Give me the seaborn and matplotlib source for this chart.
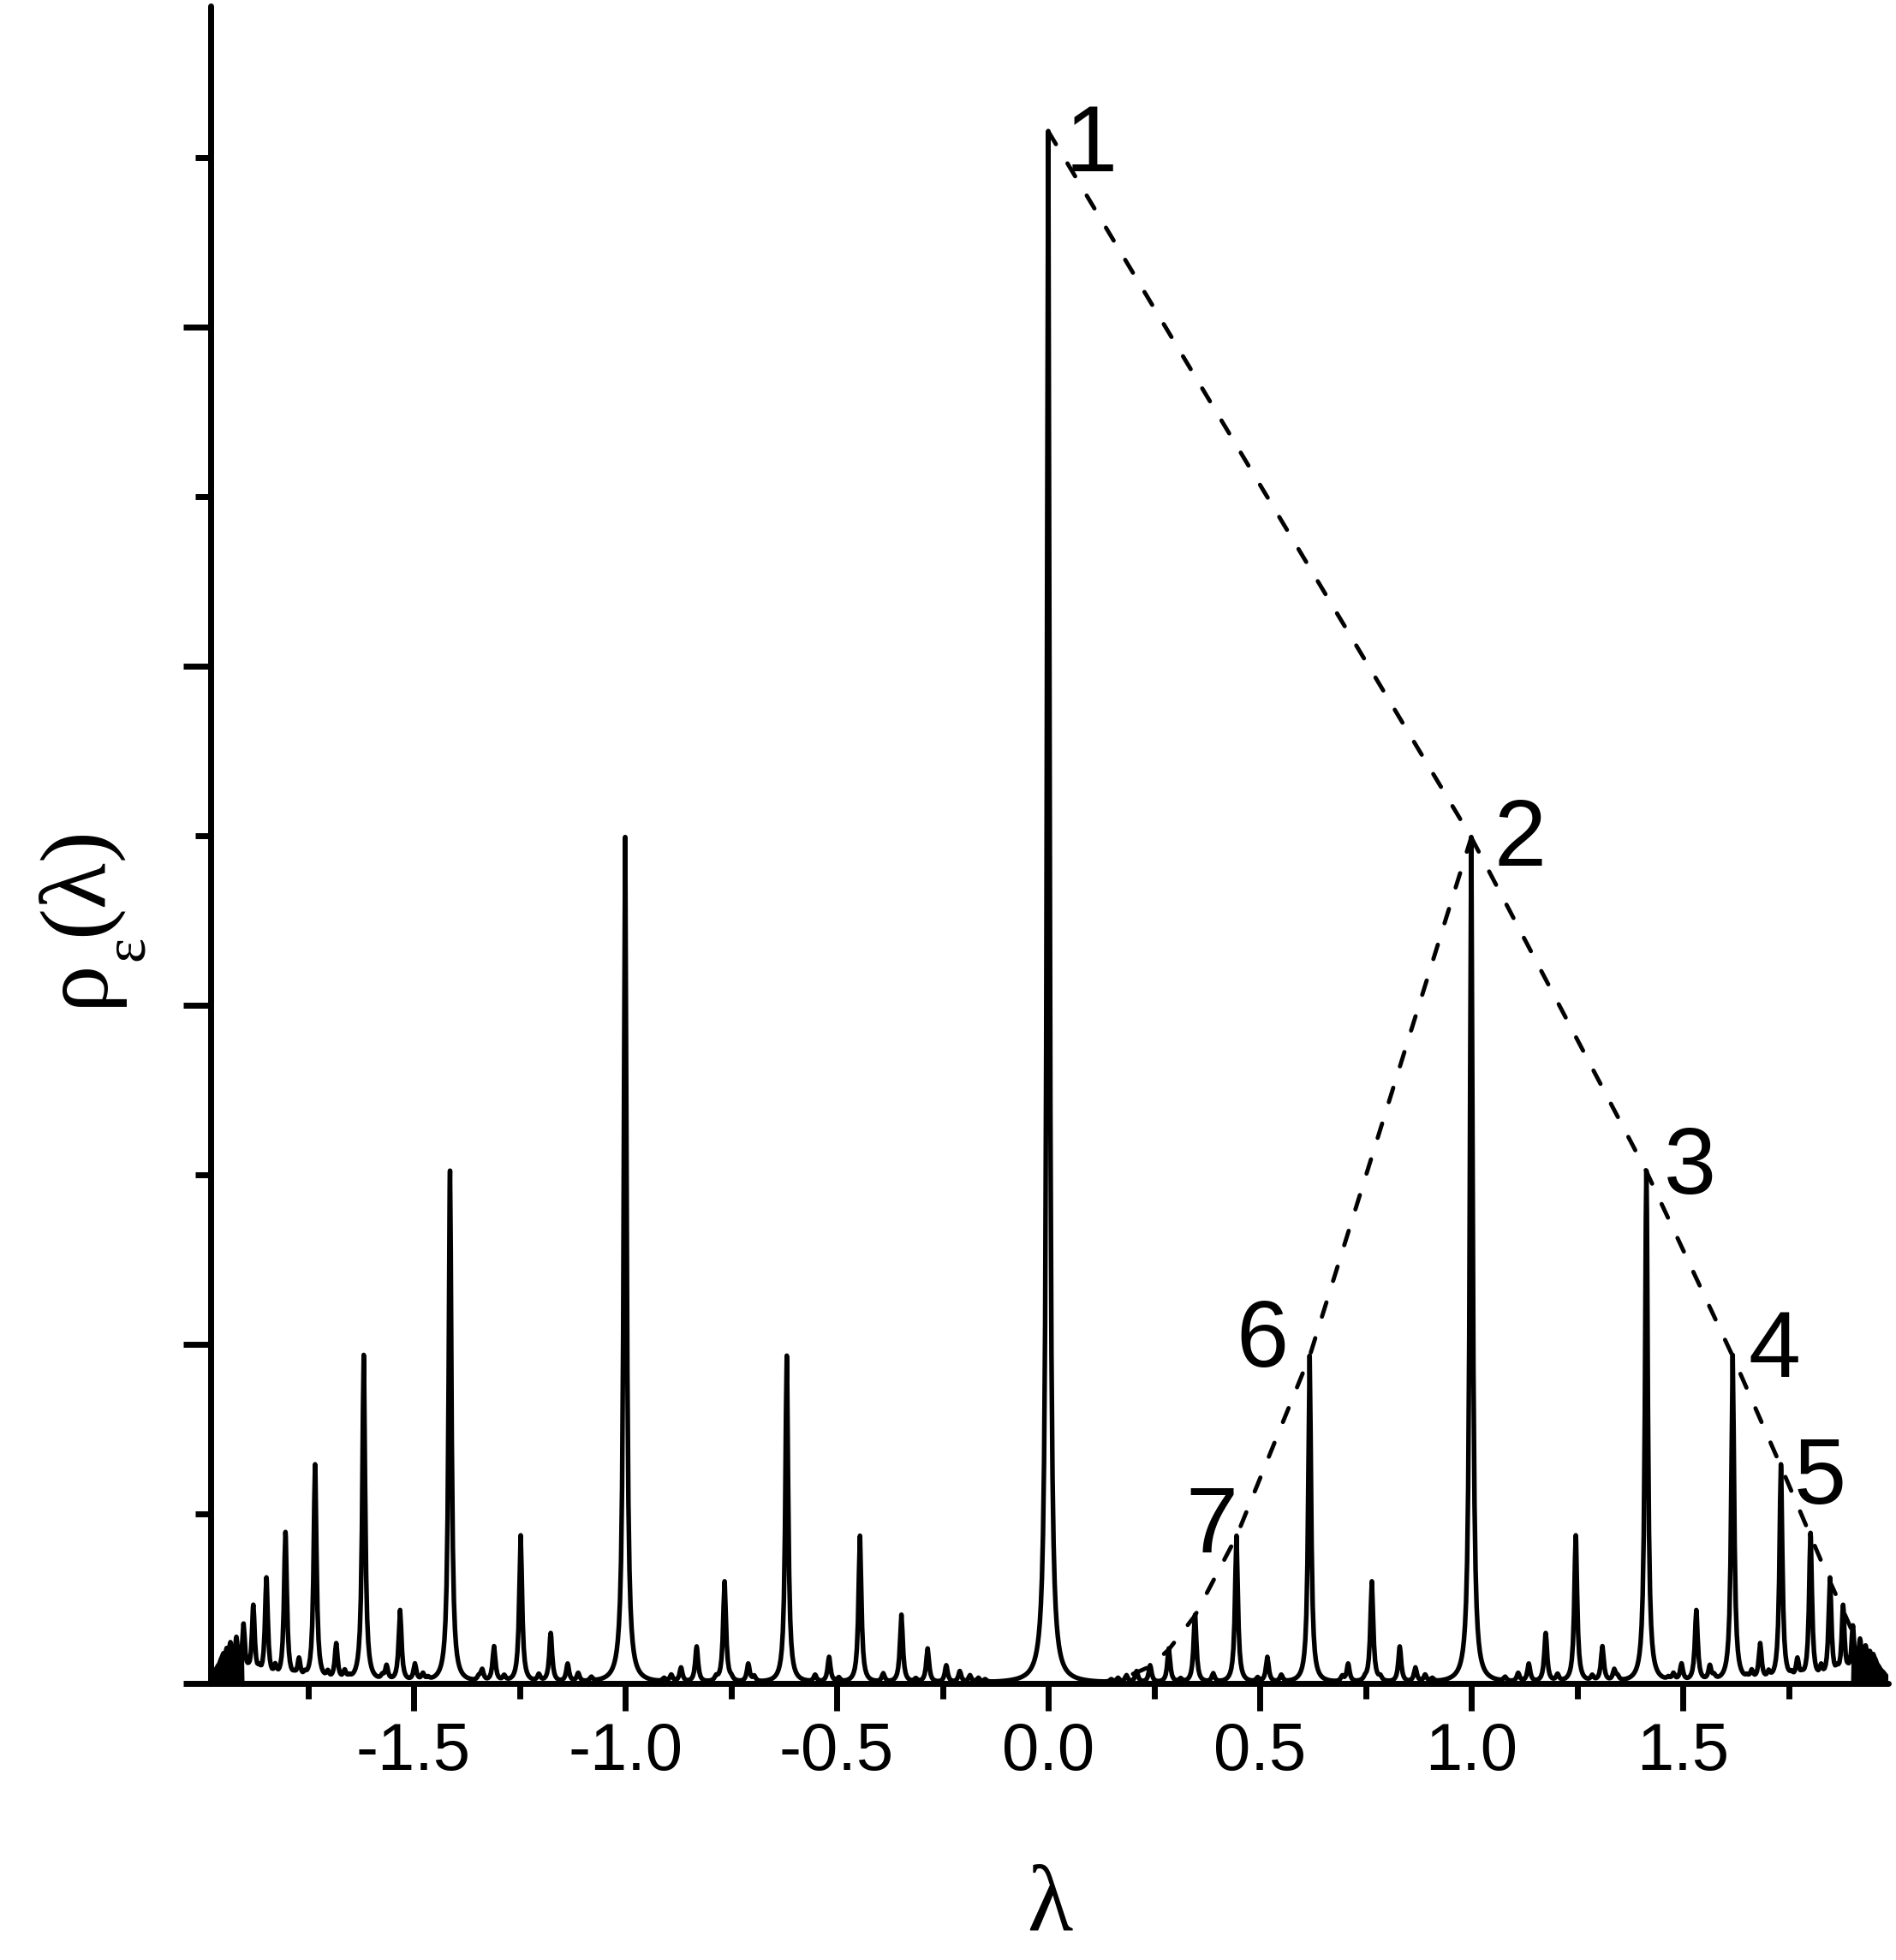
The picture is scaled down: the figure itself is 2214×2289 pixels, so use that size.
import numpy as np
import pandas as pd
import matplotlib
matplotlib.use("Agg")
import matplotlib.pyplot as plt
from matplotlib.ticker import FixedLocator, FuncFormatter
import seaborn as sns

# ---------------- data ----------------
# positive-lambda peaks (position, peak height in y-tick units)
lam_right = [0.000, 1.000, 1.414, 1.618, 0.618, 1.732,
             1.802, 1.247, 0.445, 1.848, 0.765,
             1.879, 1.532, 0.347, 1.902, 1.176,
             1.919, 1.683, 1.310, 0.831, 0.285, 1.932, 0.518,
             1.942, 1.771, 1.497, 1.136, 0.709, 0.241,
             1.950, 1.564, 0.868, 1.956, 1.827, 1.338, 0.209,
             1.962, 1.663, 1.111, 0.390,
             1.966, 1.865, 1.703, 1.478, 1.204, 0.891, 0.551, 0.185,
             1.970, 1.286, 0.695,
             1.973, 1.891, 1.757, 1.574, 1.346, 1.080, 0.785, 0.495, 0.165,
             1.975, 1.782, 0.908, 0.313,
             1.978, 1.911, 1.652, 1.466, 0.749, 0.149,
             1.926, 1.937, 1.946, 1.953, 1.959,
             1.980, 1.983, 1.985]
h_right = [9.155, 4.99, 3.02, 1.93, 1.93, 1.28,
           0.87, 0.867, 0.867, 0.60, 0.595,
           0.43, 0.42, 0.40, 0.30, 0.288,
           0.21, 0.215, 0.207, 0.21, 0.20, 0.155, 0.148,
           0.11, 0.115, 0.10, 0.106, 0.106, 0.10,
           0.085, 0.085, 0.084, 0.05, 0.065, 0.065, 0.065,
           0.035, 0.05, 0.05, 0.05,
           0.026, 0.04, 0.04, 0.04, 0.04, 0.04, 0.04, 0.04,
           0.018, 0.031, 0.031,
           0.014, 0.024, 0.024, 0.024, 0.024, 0.024, 0.024, 0.024, 0.024,
           0.012, 0.019, 0.019, 0.019,
           0.010, 0.016, 0.015, 0.015, 0.015, 0.015,
           0.02, 0.02, 0.02, 0.02, 0.012,
           0.008, 0.006, 0.005]
# negative-lambda peaks
lam_left = [-1.000, -1.414, -1.618, -0.618, -1.733,
            -1.803, -1.247, -0.445, -1.848, -0.765,
            -1.879, -1.532, -0.347, -1.902, -1.176,
            -1.919, -1.683, -1.310, -0.831, -0.285, -1.933, -0.518,
            -1.942, -1.771, -1.497, -1.136, -0.709, -0.241,
            -1.950, -1.564, -0.868, -1.956, -1.827, -1.338, -0.209,
            -1.962, -1.663, -1.111, -0.390,
            -1.966, -1.865, -1.703, -1.478, -1.204, -0.891, -0.551, -0.185,
            -1.970, -1.286, -0.695,
            -1.973, -1.891, -1.757, -1.574, -1.346, -1.080, -0.785, -0.495, -0.165,
            -1.975, -1.782, -0.908, -0.313,
            -1.978, -1.911, -1.652, -1.466, -0.749, -0.149,
            -1.926, -1.937, -1.946, -1.953, -1.959,
            -1.980, -1.983]
h_left = [4.99, 3.02, 1.93, 1.93, 1.28,
          0.875, 0.867, 0.867, 0.60, 0.595,
          0.43, 0.42, 0.40, 0.31, 0.288,
          0.22, 0.215, 0.207, 0.21, 0.20, 0.17, 0.148,
          0.12, 0.115, 0.10, 0.106, 0.106, 0.10,
          0.085, 0.085, 0.084, 0.05, 0.065, 0.065, 0.065,
          0.035, 0.05, 0.05, 0.05,
          0.026, 0.04, 0.04, 0.04, 0.04, 0.04, 0.04, 0.04,
          0.018, 0.031, 0.031,
          0.014, 0.024, 0.024, 0.024, 0.024, 0.024, 0.024, 0.024, 0.024,
          0.012, 0.019, 0.019, 0.019,
          0.010, 0.016, 0.015, 0.015, 0.015, 0.015,
          0.02, 0.02, 0.02, 0.02, 0.012,
          0.008, 0.006]
epsilon = 0.004       # Lorentzian broadening
sample_step = 0.0025  # sampling step of the plotted curve
dense_edge = 1.90     # beyond |lambda| > this the spikes merge into a solid comb

# dashed envelope 1 -> 2 -> 3 -> 4 -> 5 ...
dashA_lam = [0.000, 1.000, 1.414, 1.618, 1.732, 1.802, 1.848, 1.879, 1.902, 1.919, 1.932, 1.942]
dashA_h = [9.155, 4.99, 3.02, 1.93, 1.28, 0.87, 0.60, 0.43, 0.30, 0.21, 0.155, 0.11]
# dashed envelope 2 -> 6 -> 7 ...
dashB_lam = [1.000, 0.618, 0.445, 0.347, 0.285, 0.241, 0.209, 0.185]
dashB_h = [4.99, 1.93, 0.867, 0.40, 0.20, 0.10, 0.065, 0.04]

peak_labels = ["1", "2", "3", "4", "5", "6", "7"]
label_lam = [0.040, 1.0526, 1.4555, 1.6549, 1.7632, 0.4433, 0.3239]
label_y = [8.919, 4.823, 2.889, 1.808, 1.061, 1.869, 0.773]

xtick_major = [-1.5, -1.0, -0.5, 0.0, 0.5, 1.0, 1.5]
xtick_minor = [-1.75, -1.25, -0.75, -0.25, 0.25, 0.75, 1.25, 1.75]
ytick_major = [0, 2, 4, 6, 8]
ytick_minor = [1, 3, 5, 7, 9]
xlim = (-1.9798, 1.9858)
ylim = (0.0, 9.894)

# ---------------- build smoothed density ----------------
lam_all = np.array(lam_right + lam_left)
h_all = np.array(h_right + h_left)
base = np.arange(xlim[0], xlim[1], sample_step)
inside = lam_all[(lam_all > xlim[0]) & (lam_all < xlim[1])]
grid = np.union1d(base, inside)
rho = np.zeros_like(grid)
for l0, h0 in zip(lam_all, h_all):
    rho += h0 * epsilon**2 / ((grid - l0) ** 2 + epsilon**2)
df = pd.DataFrame({"lam": grid, "rho": rho})

# ---------------- plot ----------------
sns.set_style("white")
plt.rcParams["font.family"] = ["Liberation Sans", "DejaVu Sans"]
for key in ["text.color", "axes.labelcolor", "xtick.color", "ytick.color", "axes.edgecolor"]:
    plt.rcParams[key] = "black"

W, H = 2214, 2289
fig = plt.figure(figsize=(W / 100, H / 100), dpi=100)
ax = fig.add_axes([246 / W, 1 - 1966 / H, (2205 - 246) / W, (1966 - 7) / H])

sns.lineplot(data=df, x="lam", y="rho", ax=ax, color="black", lw=3.9,
             estimator=None, sort=False)
edge = np.abs(grid) >= dense_edge
ax.fill_between(grid, 0, rho, where=edge, color="black", lw=0, interpolate=True)
sns.lineplot(x=dashA_lam, y=dashA_h, ax=ax, color="black", lw=3.5,
             estimator=None, sort=False, linestyle=(0, (3.6, 5.4)))
sns.lineplot(x=dashB_lam, y=dashB_h, ax=ax, color="black", lw=3.5,
             estimator=None, sort=False, linestyle=(0, (3.6, 5.4)))
for ln in ax.lines[1:]:
    ln.set_dash_capstyle("round")

for s, lx, ly in zip(peak_labels, label_lam, label_y):
    ax.text(lx, ly, s, fontsize=79, ha="left", va="baseline", color="black",
            family=["Liberation Sans", "DejaVu Sans"])

ax.set_xlim(*xlim)
ax.set_ylim(*ylim)
for side in ["top", "right"]:
    ax.spines[side].set_visible(False)
for side in ["left", "bottom"]:
    ax.spines[side].set_linewidth(5)
    ax.spines[side].set_color("black")
    ax.spines[side].set_capstyle("round")

ax.xaxis.set_major_locator(FixedLocator(xtick_major))
ax.xaxis.set_minor_locator(FixedLocator(xtick_minor))
ax.xaxis.set_major_formatter(FuncFormatter(lambda v, p: f"{v:.1f}"))
ax.yaxis.set_major_locator(FixedLocator(ytick_major))
ax.yaxis.set_minor_locator(FixedLocator(ytick_minor))
ax.tick_params(axis="both", which="both", bottom=True, left=True, top=False, right=False)
ax.tick_params(axis="both", which="major", direction="out", length=23, width=5,
               color="black", labelsize=56, pad=9, labelcolor="black")
ax.tick_params(axis="both", which="minor", direction="out", length=13, width=5,
               color="black")
ax.tick_params(axis="y", which="both", labelleft=False)

ax.set_xlabel("λ", fontsize=79, family=["Liberation Serif", "DejaVu Serif"])
ax.xaxis.label.set_va("baseline")
ax.xaxis.set_label_coords(0.5, (1966 - 2254) / 1959)

# y label: rho, lowered epsilon subscript, (lambda)
serif = ["Liberation Serif", "DejaVu Serif"]
ax.set_ylabel("ρ", fontsize=80, family=serif)
ax.yaxis.label.set_ha("left")
ax.yaxis.label.set_va("baseline")
ax.yaxis.set_label_coords((119 - 246) / 1959, (1966 - 1175) / 1959)
fig.text(150 / W, 1 - 1107 / H, "ε", rotation=90, fontsize=50, ha="center",
         va="center", family=serif, color="black")
fig.text(119 / W, 1 - 1029 / H, "(λ)", rotation=90, rotation_mode="anchor",
         fontsize=80, ha="center", va="baseline", family=serif, color="black")

fig.savefig("out.png", dpi=100, facecolor="white")
